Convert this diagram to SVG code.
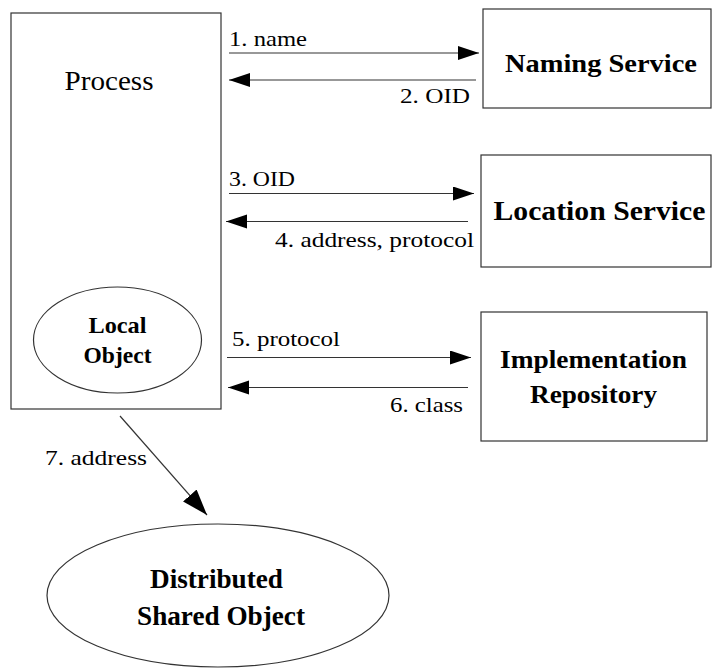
<svg xmlns="http://www.w3.org/2000/svg" width="712" height="668" viewBox="0 0 712 668" font-family="'Liberation Serif', 'Times New Roman', Times, serif">
<defs>
<style>
text{font-family:'Liberation Serif','Times New Roman',Times,serif}
.box{fill:#fff;stroke:#333;stroke-width:1.2}
.edge{stroke:#333;stroke-width:1.2;fill:none}
.lbl{fill:#000}
.node{font-weight:bold;fill:#000;text-anchor:middle}
</style>
<marker id="ah" markerUnits="userSpaceOnUse" markerWidth="22" markerHeight="15" refX="21" refY="7" orient="auto"><path d="M0,0 L21,7 L0,14 z" fill="#000"/></marker>
<marker id="ah2" markerUnits="userSpaceOnUse" markerWidth="27" markerHeight="19" refX="26" refY="9" orient="auto"><path d="M0,0 L26,9 L0,18 z" fill="#000"/></marker>
</defs>
<g id="process">
<rect class="box" x="11" y="13" width="210" height="396"/>
<text x="109" y="90" font-size="27" text-anchor="middle" textLength="89" lengthAdjust="spacingAndGlyphs">Process</text>
</g>
<g id="local-object">
<ellipse class="box" cx="117.5" cy="340" rx="84" ry="53"/>
<text class="node" x="117.5" y="333" font-size="23" textLength="58" lengthAdjust="spacingAndGlyphs">Local</text>
<text class="node" x="117.5" y="363" font-size="23" textLength="68" lengthAdjust="spacingAndGlyphs">Object</text>
</g>
<g id="naming-service">
<rect class="box" x="483" y="9" width="228" height="99"/>
<text class="node" x="601" y="72" font-size="26" textLength="192" lengthAdjust="spacingAndGlyphs">Naming Service</text>
</g>
<g id="location-service">
<rect class="box" x="481" y="155" width="230" height="112"/>
<text class="node" x="599.5" y="220" font-size="27" textLength="212" lengthAdjust="spacingAndGlyphs">Location Service</text>
</g>
<g id="implementation-repository">
<rect class="box" x="481" y="312" width="226" height="129"/>
<text class="node" x="593.5" y="368" font-size="26" textLength="187" lengthAdjust="spacingAndGlyphs">Implementation</text>
<text class="node" x="593.5" y="403" font-size="26" textLength="127" lengthAdjust="spacingAndGlyphs">Repository</text>
</g>
<g id="distributed-shared-object">
<ellipse class="box" cx="218" cy="595.5" rx="171" ry="71.5"/>
<text class="node" x="216.5" y="588" font-size="27" textLength="133" lengthAdjust="spacingAndGlyphs">Distributed</text>
<text class="node" x="221" y="625" font-size="27" textLength="168" lengthAdjust="spacingAndGlyphs">Shared Object</text>
</g>
<g id="connectors" font-size="21">
<line class="edge" x1="229" y1="53" x2="479" y2="53" marker-end="url(#ah)"/>
<line class="edge" x1="476" y1="80" x2="229" y2="80" marker-end="url(#ah)"/>
<line class="edge" x1="229" y1="193.5" x2="474" y2="193.5" marker-end="url(#ah)"/>
<line class="edge" x1="468" y1="221.5" x2="226" y2="221.5" marker-end="url(#ah)"/>
<line class="edge" x1="227" y1="357.5" x2="471" y2="357.5" marker-end="url(#ah)"/>
<line class="edge" x1="468" y1="387.5" x2="228" y2="387.5" marker-end="url(#ah)"/>
<line class="edge" x1="120" y1="416" x2="207" y2="515" marker-end="url(#ah2)"/>
<text class="lbl" x="229" y="46" textLength="78" lengthAdjust="spacingAndGlyphs">1. name</text>
<text class="lbl" x="470" y="103" text-anchor="end" textLength="70" lengthAdjust="spacingAndGlyphs">2. OID</text>
<text class="lbl" x="229" y="186" textLength="66" lengthAdjust="spacingAndGlyphs">3. OID</text>
<text class="lbl" x="474" y="247" text-anchor="end" textLength="199" lengthAdjust="spacingAndGlyphs">4. address, protocol</text>
<text class="lbl" x="232" y="346" textLength="108" lengthAdjust="spacingAndGlyphs">5. protocol</text>
<text class="lbl" x="463" y="411.5" text-anchor="end" textLength="73" lengthAdjust="spacingAndGlyphs">6. class</text>
<text class="lbl" x="45" y="465" textLength="102" lengthAdjust="spacingAndGlyphs">7. address</text>
</g>
</svg>
